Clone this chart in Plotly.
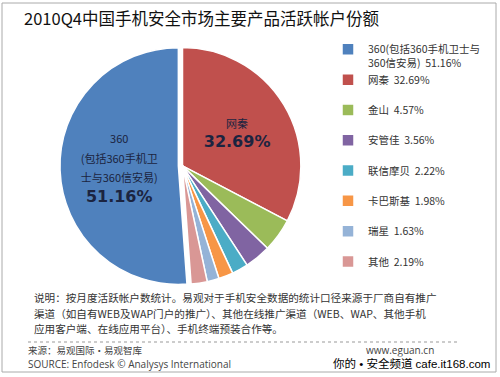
import plotly.graph_objects as go

# Data
categories = ["360", "网秦", "金山", "安管佳", "联信摩贝", "卡巴斯基", "瑞星", "其他"]
legend_names = ["360(包括360手机卫士与<br>360信安易)", "网秦", "金山", "安管佳",
                "联信摩贝", "卡巴斯基", "瑞星", "其他"]
shares = [51.16, 32.69, 4.57, 3.56, 2.22, 1.98, 1.63, 2.19]
colors = ["#4F81BD", "#C0504D", "#9BBB59", "#8064A2", "#4BACC6", "#F79646", "#95B3D7", "#D99795"]

title_text = "2010Q4中国手机安全市场主要产品活跃帐户份额"
note_lines = [
    "说明：按月度活跃帐户数统计。易观对于手机安全数据的统计口径来源于厂商自有推广",
    "渠道（如自有WEB及WAP门户的推广）、其他在线推广渠道（WEB、WAP、其他手机",
    "应用客户端、在线应用平台）、手机终端预装合作等。",
]
source_cn = "来源：易观国际·易观智库"
source_en = "SOURCE: Enfodesk © Analysys International"
site = "www.eguan.cn"
watermark = "你的 • 安全频道 cafe.it168.com"

FONT = "Noto Sans CJK SC"

# legend labels with trailing blank line for spacing (except first)
labels = []
for i, (n, v) in enumerate(zip(legend_names, shares)):
    if i == 0:
        labels.append(f"{n}  {v:.2f}%")
    else:
        labels.append(f"{n}  {v:.2f}%<br> ")

SMALL = "<span style='font-size:11px'>{}</span>"
BIG = "<span style=\"font-size:16px;font-family:'DejaVu Sans'\"><b>{}</b></span>"
inner_text = []
for i, (c, v) in enumerate(zip(categories, shares)):
    if i == 0:
        inner_text.append("<br>".join([SMALL.format(c), SMALL.format("(包括360手机卫"),
                                       SMALL.format("士与360信安易)"), BIG.format(f"{v:.2f}%")]))
    elif i == 1:
        inner_text.append("<br>".join([SMALL.format(c), BIG.format(f"{v:.2f}%")]))
    else:
        inner_text.append("")

fig = go.Figure(go.Pie(
    labels=labels,
    values=shares,
    text=inner_text,
    textinfo="text",
    textposition="inside",
    insidetextorientation="horizontal",
    sort=False,
    direction="clockwise",
    rotation=-sum(shares[:1]) / sum(shares) * 360,
    pull=[0.035, 0, 0, 0, 0, 0, 0, 0],
    marker=dict(colors=colors, line=dict(color="white", width=1.5)),
    textfont=dict(family=FONT, size=15, color="#1b2440"),
    domain=dict(x=[0.11, 0.62], y=[0.235, 0.885]),
    hoverinfo="label+percent",
))

W, H = 500, 377
def px(x): return x / W
def py(y): return 1 - y / H

annotations = [
    dict(x=px(22), y=py(18), text=title_text, showarrow=False, xanchor="left", yanchor="middle",
         font=dict(family=FONT, size=16.5, color="#111111")),
]
for i, line in enumerate(note_lines):
    annotations.append(dict(x=px(33), y=py(297.5 + 15.5 * i), text=line, showarrow=False,
                            xanchor="left", yanchor="middle", borderpad=0,
                            font=dict(family=FONT, size=10.6, color="#333333")))
annotations += [
    dict(x=px(26), y=py(350), text=source_cn, showarrow=False, xanchor="left", yanchor="middle",
         font=dict(family=FONT, size=9.5, color="#444444")),
    dict(x=px(26), y=py(364), text=source_en, showarrow=False, xanchor="left", yanchor="middle",
         font=dict(family="Open Sans", size=10, color="#444444")),
    dict(x=px(364), y=py(350), text=site, showarrow=False, xanchor="left", yanchor="middle",
         font=dict(family="Open Sans", size=10, color="#444444")),
    dict(x=px(332), y=py(363), text=watermark, showarrow=False, xanchor="left", yanchor="middle",
         bgcolor="white", borderpad=0,
         font=dict(family="Liberation Sans, " + FONT, size=11.5, color="#000000")),
]

shapes = [
    dict(type="rect", xref="paper", yref="paper", x0=px(2), x1=px(496), y0=py(372), y1=py(3),
         line=dict(color="#aaaaaa", width=1)),
    dict(type="line", xref="paper", yref="paper", x0=px(28), x1=px(460), y0=py(342), y1=py(342),
         line=dict(color="#999999", width=1, dash="dot")),
]

fig.update_layout(
    width=W, height=H,
    margin=dict(l=0, r=0, t=0, b=0),
    paper_bgcolor="white",
    plot_bgcolor="white",
    showlegend=True,
    legend=dict(x=px(328), y=py(36), xanchor="left", yanchor="top",
                font=dict(family=FONT, size=10.5, color="#333333"),
                valign="top", bgcolor="rgba(0,0,0,0)", itemclick=False),
    annotations=annotations,
    shapes=shapes,
)

fig.write_html("out.html", config={"displayModeBar": False},
               post_script="document.body.style.margin='0';document.body.style.overflow='hidden';")
